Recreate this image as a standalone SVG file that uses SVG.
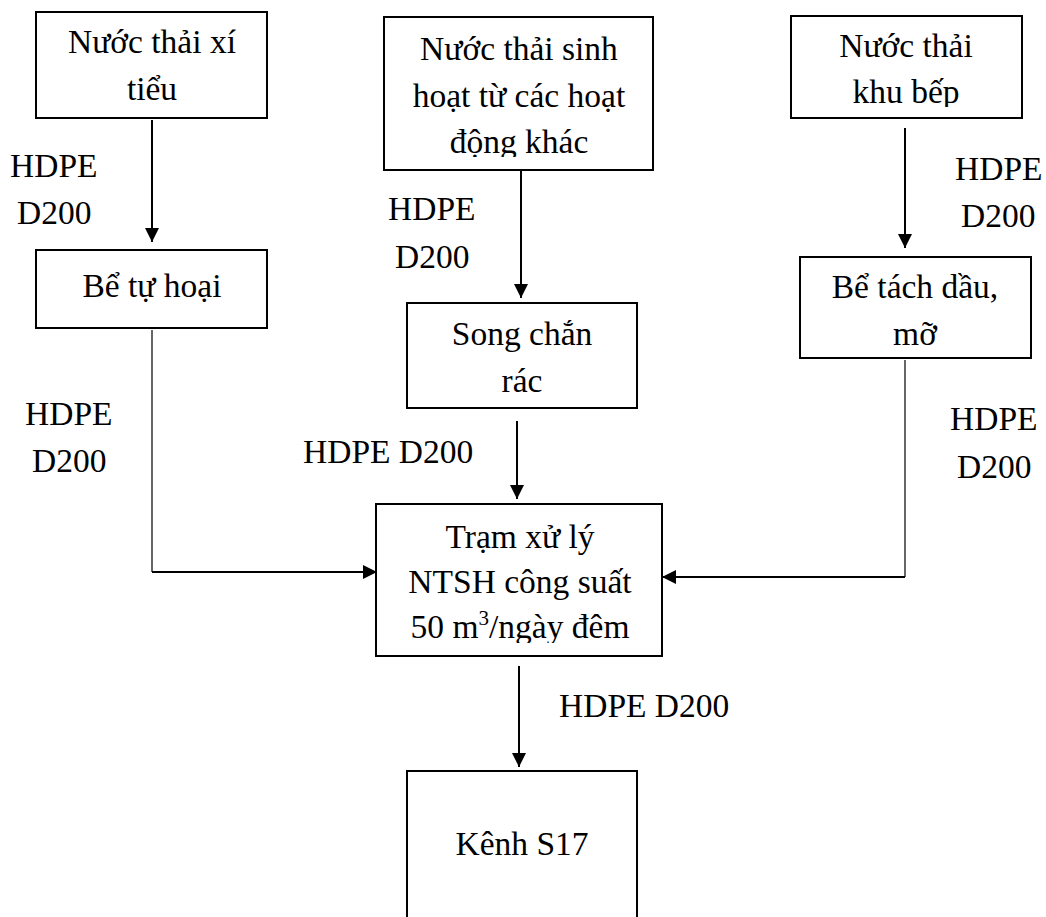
<svg xmlns="http://www.w3.org/2000/svg" width="1046" height="917" viewBox="0 0 1046 917">
  <style>
    .box { fill: #ffffff; stroke: #000000; stroke-width: 2; }
    .txt { font-family: "Liberation Serif", "Times New Roman", serif; font-size: 33.5px; fill: #000000; }
    .mid { text-anchor: middle; }
    .pipe { fill: none; stroke: #000000; stroke-width: 2; }
    .thin { fill: none; stroke: #000000; stroke-width: 1.2; }
  </style>
  <defs>
    <marker id="arrow" viewBox="0 0 14 14" refX="14" refY="7" markerWidth="14" markerHeight="14" markerUnits="userSpaceOnUse" orient="auto">
      <path d="M0,0 L14,7 L0,14 Z" fill="#000000"/>
    </marker>
    <!-- text frames cut the last line short at their lower edge -->
    <clipPath id="clip-sinhhoat"><rect x="385" y="18" width="267" height="139"/></clipPath>
    <clipPath id="clip-bep"><rect x="792" y="17" width="229" height="90"/></clipPath>
    <clipPath id="clip-tram"><rect x="377" y="505" width="284" height="138"/></clipPath>
  </defs>

  <rect width="1046" height="917" fill="#ffffff"/>

  <!-- pipe connectors -->
  <g id="connectors">
    <line class="pipe" x1="152" y1="120" x2="152" y2="242" marker-end="url(#arrow)"/>
    <line class="pipe" x1="521" y1="171" x2="521" y2="298" marker-end="url(#arrow)"/>
    <line class="pipe" x1="905" y1="128" x2="905" y2="248" marker-end="url(#arrow)"/>
    <line class="pipe" x1="517" y1="421" x2="517" y2="499" marker-end="url(#arrow)"/>
    <polyline class="thin" points="152,330 152,572"/>
    <line class="pipe" x1="152" y1="572" x2="377" y2="572" marker-end="url(#arrow)"/>
    <polyline class="thin" points="905,360 905,577"/>
    <line class="pipe" x1="905" y1="577" x2="662" y2="577" marker-end="url(#arrow)"/>
    <line class="pipe" x1="519" y1="666" x2="519" y2="767" marker-end="url(#arrow)"/>
  </g>

  <!-- pipe labels -->
  <g id="labels" class="txt">
    <text x="10" y="177">HDPE</text>
    <text x="17" y="224">D200</text>
    <text x="388" y="220">HDPE</text>
    <text x="395" y="268">D200</text>
    <text x="955" y="180">HDPE</text>
    <text x="961" y="227">D200</text>
    <text x="25" y="425">HDPE</text>
    <text x="32" y="472">D200</text>
    <text x="303" y="463">HDPE D200</text>
    <text x="950" y="430">HDPE</text>
    <text x="957" y="478">D200</text>
    <text x="559" y="717">HDPE D200</text>
  </g>

  <g id="nuoc-thai-xi-tieu">
    <rect class="box" x="36" y="12" width="231" height="106"/>
    <text class="txt mid" x="152" y="53">Nước thải xí</text>
    <text class="txt mid" x="152" y="100">tiểu</text>
  </g>

  <g id="be-tu-hoai">
    <rect class="box" x="36" y="250" width="231" height="78"/>
    <text class="txt mid" x="152" y="297">Bể tự hoại</text>
  </g>

  <g id="nuoc-thai-sinh-hoat">
    <rect class="box" x="384" y="17" width="269" height="153"/>
    <g clip-path="url(#clip-sinhhoat)">
      <text class="txt mid" x="519" y="60">Nước thải sinh</text>
      <text class="txt mid" x="519" y="107">hoạt từ các hoạt</text>
      <text class="txt mid" x="519" y="153">động khác</text>
    </g>
  </g>

  <g id="song-chan-rac">
    <rect class="box" x="407" y="303" width="230" height="105"/>
    <text class="txt mid" x="522" y="345">Song chắn</text>
    <text class="txt mid" x="522" y="392">rác</text>
  </g>

  <g id="nuoc-thai-khu-bep">
    <rect class="box" x="791" y="16" width="231" height="102"/>
    <g clip-path="url(#clip-bep)">
      <text class="txt mid" x="906" y="57">Nước thải</text>
      <text class="txt mid" x="906" y="103">khu bếp</text>
    </g>
  </g>

  <g id="be-tach-dau-mo">
    <rect class="box" x="800" y="257" width="231" height="101"/>
    <text class="txt mid" x="915" y="298">Bể tách dầu,</text>
    <text class="txt mid" x="915" y="345">mỡ</text>
  </g>

  <g id="tram-xu-ly">
    <rect class="box" x="376" y="504" width="286" height="152"/>
    <g clip-path="url(#clip-tram)">
      <text class="txt mid" x="520" y="548">Trạm xử lý</text>
      <text class="txt mid" x="520" y="593">NTSH công suất</text>
      <text class="txt mid" x="520" y="638">50 m<tspan font-size="21" dy="-13">3</tspan><tspan dy="13">/ngày đêm</tspan></text>
    </g>
  </g>

  <g id="kenh-s17">
    <rect class="box" x="407" y="771" width="230" height="160"/>
    <text class="txt mid" x="522" y="855">Kênh S17</text>
  </g>
</svg>
